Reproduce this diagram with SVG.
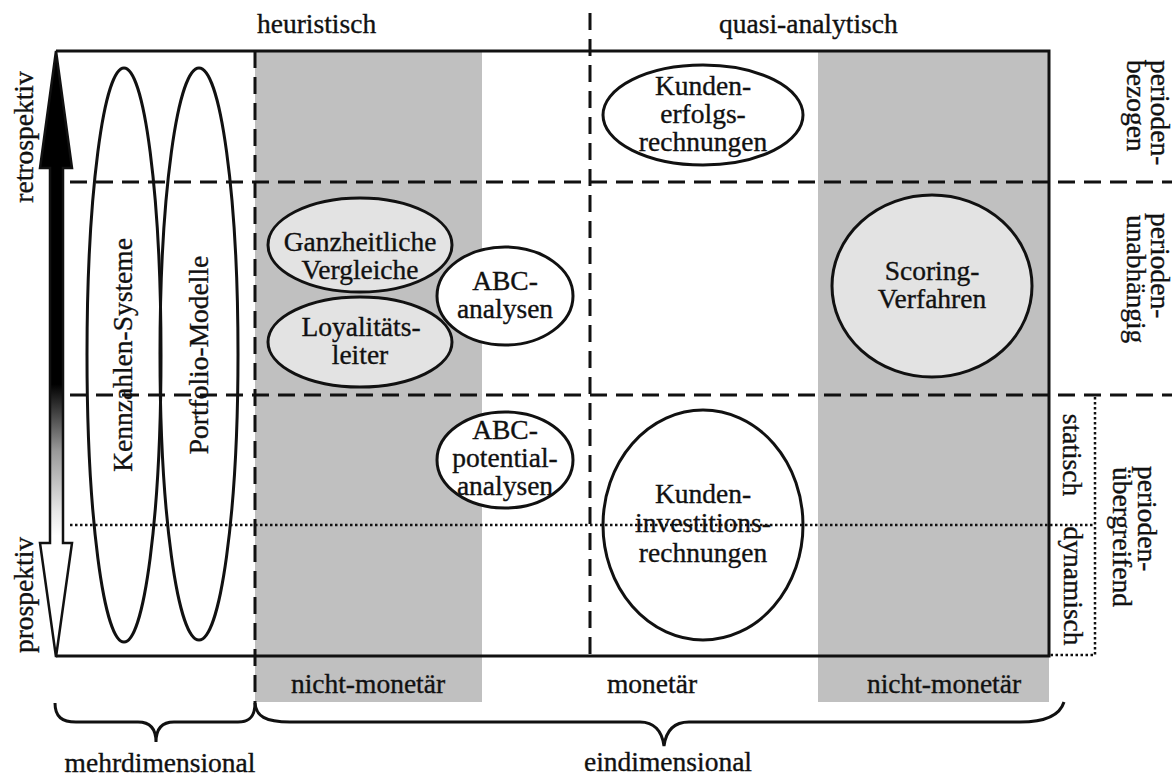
<svg xmlns="http://www.w3.org/2000/svg" width="1175" height="778" viewBox="0 0 1175 778">
  <style>
    text { font-family: "Liberation Serif", "Times New Roman", serif; font-size: 27.5px; fill: #111; stroke: #111; stroke-width: 0.35; }
    .mid { text-anchor: middle; }
    .shade { fill: #c0c0c0; }
    .frame { fill: none; stroke: #111; stroke-width: 3; }
    .dash { fill: none; stroke: #111; stroke-width: 3; stroke-dasharray: 17 9; }
    .dot { fill: none; stroke: #111; stroke-width: 2.5; stroke-dasharray: 2.5 2.5; }
    .ell { stroke: #111; stroke-width: 3; }
    .white { fill: #fff; }
    .light { fill: #e3e3e3; }
    .none { fill: none; }
  </style>
  <defs>
    <linearGradient id="arrowGrad" x1="0" y1="0" x2="0" y2="1">
      <stop offset="0" stop-color="#000"/>
      <stop offset="0.55" stop-color="#000"/>
      <stop offset="0.66" stop-color="#999"/>
      <stop offset="0.76" stop-color="#e8e8e8"/>
      <stop offset="0.8" stop-color="#fff"/>
      <stop offset="1" stop-color="#fff"/>
    </linearGradient>
  </defs>

  <rect width="1175" height="778" fill="#fff"/>

  <!-- shaded columns -->
  <g id="shading">
    <rect class="shade" x="255" y="51" width="227" height="651"/>
    <rect class="shade" x="818" y="51" width="231" height="651"/>
  </g>

  <!-- top / bottom / side labels -->
  <g id="labels">
    <text x="257" y="33">heuristisch</text>
    <text x="719" y="33">quasi-analytisch</text>
    <text class="mid" x="368" y="693">nicht-monetär</text>
    <text class="mid" x="652" y="693">monetär</text>
    <text class="mid" x="944" y="693">nicht-monetär</text>
    <text class="mid" x="160" y="772">mehrdimensional</text>
    <text class="mid" x="668" y="771">eindimensional</text>
    <text class="mid" transform="translate(33,137) rotate(-90)">retrospektiv</text>
    <text class="mid" transform="translate(33,595) rotate(-90)">prospektiv</text>
    <text transform="translate(1151,60) rotate(90)">perioden-</text>
    <text transform="translate(1127,60) rotate(90)">bezogen</text>
    <text transform="translate(1151,213) rotate(90)">perioden-</text>
    <text transform="translate(1127,215) rotate(90)">unabhängig</text>
    <text transform="translate(1138,466) rotate(90)">perioden-</text>
    <text transform="translate(1113,467) rotate(90)">übergreifend</text>
    <text class="mid" transform="translate(1063,455) rotate(90)">statisch</text>
    <text class="mid" transform="translate(1064,586) rotate(90)">dynamisch</text>
  </g>

  <!-- nodes -->
  <g id="node-kennzahlen">
    <ellipse class="ell none" cx="124" cy="355" rx="37" ry="287"/>
    <text class="mid" transform="translate(132,355) rotate(-90)">Kennzahlen-Systeme</text>
  </g>
  <g id="node-portfolio">
    <ellipse class="ell none" cx="199" cy="354" rx="39" ry="286"/>
    <text class="mid" transform="translate(208,355) rotate(-90)">Portfolio-Modelle</text>
  </g>
  <g id="node-ganzheitliche">
    <ellipse class="ell light" cx="360" cy="245" rx="92" ry="47"/>
    <text class="mid" x="360" y="251">Ganzheitliche</text>
    <text class="mid" x="360" y="279">Vergleiche</text>
  </g>
  <g id="node-loyalitaet">
    <ellipse class="ell light" cx="360" cy="342" rx="92" ry="45"/>
    <text class="mid" x="361" y="336">Loyalitäts-</text>
    <text class="mid" x="360" y="364">leiter</text>
  </g>
  <g id="node-abc">
    <ellipse class="ell white" cx="505" cy="296" rx="68" ry="49"/>
    <text class="mid" x="505" y="290">ABC-</text>
    <text class="mid" x="505" y="318">analysen</text>
  </g>
  <g id="node-abc-potential">
    <ellipse class="ell white" cx="505" cy="460" rx="68" ry="48"/>
    <text class="mid" x="505" y="439">ABC-</text>
    <text class="mid" x="505" y="467">potential-</text>
    <text class="mid" x="505" y="495">analysen</text>
  </g>
  <g id="node-kundenerfolg">
    <ellipse class="ell white" cx="703" cy="115" rx="100" ry="50"/>
    <text class="mid" x="703" y="95">Kunden-</text>
    <text class="mid" x="703" y="123">erfolgs-</text>
    <text class="mid" x="703" y="151">rechnungen</text>
  </g>
  <g id="node-kundeninvest">
    <ellipse class="ell white" cx="703" cy="525" rx="100" ry="115"/>
    <text class="mid" x="703" y="503">Kunden-</text>
    <text class="mid" x="703" y="532">investitions-</text>
    <text class="mid" x="703" y="562">rechnungen</text>
  </g>
  <g id="node-scoring">
    <ellipse class="ell light" cx="932" cy="286" rx="100" ry="91"/>
    <text class="mid" x="932" y="280">Scoring-</text>
    <text class="mid" x="932" y="308">Verfahren</text>
  </g>

  <!-- connectors: frame, dividers, arrow, braces -->
  <g id="connectors">
    <polyline class="frame" points="56,51 1049,51 1049,656 56,656"/>
    <line class="dash" x1="70" y1="182" x2="1172" y2="182"/>
    <line class="dash" x1="70" y1="395" x2="1172" y2="395"/>
    <line class="dash" x1="255" y1="51" x2="255" y2="703"/>
    <line class="dash" x1="590" y1="13" x2="590" y2="656"/>
    <line class="dot" x1="70" y1="525" x2="1095" y2="525"/>
    <polyline class="dot" points="1095,397 1095,655 1049,655"/>
    <polygon points="56,51 72,168 63,168 63,543 72,543 56,657 40,543 50,543 50,168 40,168" fill="url(#arrowGrad)" stroke="#111" stroke-width="2.5" stroke-linejoin="miter"/>
    <path class="frame" d="M55,703 C55,717 62,722 76,722 L138,722 C150,722 156,729 156,742 C156,729 162,722 174,722 L238,722 C250,722 255,716 255,703"/>
    <path class="frame" d="M255,703 C256,716 265,722 290,722 L640,722 C654,722 662,731 664,746 C666,731 674,722 689,722 L1020,722 C1046,722 1060,715 1064,702"/>
  </g>
</svg>
